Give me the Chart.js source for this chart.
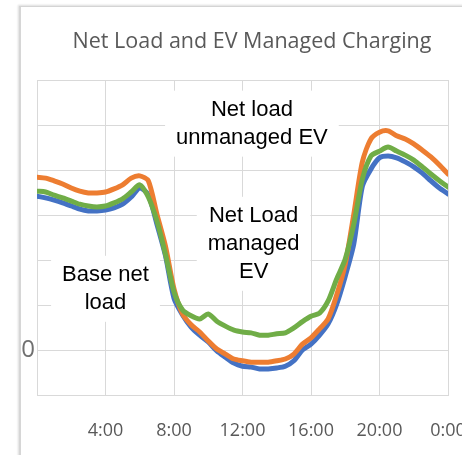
<!DOCTYPE html>
<html>
<head>
<meta charset="utf-8">
<script src="https://cdn.jsdelivr.net/npm/chart.js@4.4.1/dist/chart.umd.min.js"></script>
<style>
  body { margin: 0; overflow: hidden; background: #fff; width: 462px; height: 455px; position: relative; }
  #frame { position: absolute; left: 19px; top: 6px; width: 520px; height: 520px;
           border-left: 2px solid #d6d6d6; border-top: 1px solid #d4d4d4;
           box-shadow: -1px -1px 2px rgba(0,0,0,0.14); }
  #c { position: absolute; left: 0; top: 0; }
</style>
</head>
<body>
<div id="frame"></div>
<canvas id="c" width="480" height="455"></canvas>
<script>
// hour of day, every 30 min
const hours = [0, 0.5, 1, 1.5, 2, 2.5, 3, 3.5, 4, 4.5, 5, 5.5, 6, 6.5, 7, 7.5, 8, 8.5, 9, 9.5,
  10, 10.5, 11, 11.5, 12, 12.5, 13, 13.5, 14, 14.5, 15, 15.5, 16, 16.5, 17, 17.5, 18, 18.5,
  19, 19.5, 20, 20.5, 21, 21.5, 22, 22.5, 23, 23.5, 24];

const baseNetLoad = [3.42, 3.38, 3.33, 3.27, 3.2, 3.13, 3.09, 3.09, 3.11, 3.16, 3.24, 3.4, 3.6,
  3.45, 2.8, 2.1, 1.15, 0.78, 0.51, 0.33, 0.18, -0.02, -0.16, -0.29, -0.36, -0.38, -0.42, -0.42,
  -0.4, -0.36, -0.24, 0.0, 0.13, 0.33, 0.58, 1.02, 1.64, 2.36, 3.64, 4.02, 4.27, 4.31, 4.27,
  4.18, 4.07, 3.93, 3.76, 3.6, 3.47];

const unmanagedEV = [3.84, 3.82, 3.76, 3.69, 3.6, 3.53, 3.49, 3.49, 3.51, 3.58, 3.67, 3.82, 3.87,
  3.76, 3.02, 2.31, 1.36, 0.8, 0.56, 0.4, 0.2, 0.02, -0.09, -0.2, -0.24, -0.27, -0.27, -0.27,
  -0.24, -0.2, -0.09, 0.13, 0.27, 0.47, 0.69, 1.22, 1.91, 3.02, 4.18, 4.69, 4.84, 4.87, 4.76,
  4.69, 4.58, 4.44, 4.29, 4.11, 3.91];

const managedEV = [3.53, 3.51, 3.44, 3.38, 3.31, 3.24, 3.2, 3.18, 3.2, 3.27, 3.36, 3.51, 3.67,
  3.4, 2.87, 2.13, 1.29, 0.89, 0.76, 0.69, 0.8, 0.64, 0.53, 0.44, 0.4, 0.38, 0.33, 0.33, 0.36,
  0.38, 0.49, 0.63, 0.75, 0.82, 1.09, 1.58, 2.02, 2.8, 3.8, 4.31, 4.42, 4.51, 4.42, 4.33, 4.22,
  4.07, 3.91, 3.76, 3.62];

const xTicks = [0, 4, 8, 12, 16, 20, 24];
const xTickLabels = ['', '4:00', '8:00', '12:00', '16:00', '20:00', '0:00'];

// text boxes inside the plot: [hour, value, lines]
const notes = [
  [4, 1.36, ['Base net', 'load']],
  [12.55, 5.03, ['Net load', 'unmanaged EV']],
  [12.65, 2.36, ['Net Load', 'managed', 'EV']]
];

const COLORS = {
  base: '#4472C4',
  unmanaged: '#ED7D31',
  managed: '#70AD47',
  grid: '#d9d9d9'
};

function toPoints(values) {
  return values.map((v, i) => ({ x: hours[i], y: v }));
}

// title drawn by hand so it can sit centred on the frame, not the plot
const titlePlugin = {
  id: 'frameTitle',
  afterDraw(chart) {
    const ctx = chart.ctx;
    ctx.save();
    ctx.font = "21.5px 'Open Sans'";
    ctx.fillStyle = '#595959';
    ctx.textAlign = 'center';
    ctx.textBaseline = 'middle';
    ctx.fillText('Net Load and EV Managed Charging', 252, 42);
    ctx.restore();
  }
};

// white text boxes over the grid, under the lines
const notePlugin = {
  id: 'notes',
  beforeDatasetsDraw(chart) {
    const ctx = chart.ctx;
    const xs = chart.scales.x, ys = chart.scales.y;
    const lineH = 28;
    ctx.save();
    ctx.font = "22px 'Liberation Sans'";
    ctx.textAlign = 'center';
    ctx.textBaseline = 'middle';
    notes.forEach(([h, v, lines]) => {
      const cx = xs.getPixelForValue(h);
      const cy = ys.getPixelForValue(v);
      const w = Math.max(...lines.map(l => ctx.measureText(l).width)) + 22;
      const hgt = lines.length * lineH + 10;
      ctx.fillStyle = '#fff';
      ctx.fillRect(cx - w / 2, cy - hgt / 2, w, hgt);
      ctx.fillStyle = '#000';
      lines.forEach((l, i) => {
        ctx.fillText(l, cx, cy + (i - (lines.length - 1) / 2) * lineH);
      });
    });
    ctx.restore();
  }
};

new Chart(document.getElementById('c'), {
  type: 'line',
  data: {
    datasets: [
      { label: 'Base net load', data: toPoints(baseNetLoad), borderColor: COLORS.base, order: 3 },
      { label: 'Net load unmanaged EV', data: toPoints(unmanagedEV), borderColor: COLORS.unmanaged, order: 2 },
      { label: 'Net load managed EV', data: toPoints(managedEV), borderColor: COLORS.managed, order: 1 }
    ]
  },
  options: {
    responsive: false,
    animation: false,
    layout: { padding: { left: 0, right: 32, top: 80, bottom: 0 } },
    elements: {
      line: { borderWidth: 5, tension: 0.25, fill: false, borderCapStyle: 'round', borderJoinStyle: 'round' },
      point: { radius: 0 }
    },
    plugins: {
      legend: { display: false },
      title: { display: false },
      tooltip: { enabled: false }
    },
    scales: {
      x: {
        type: 'linear',
        min: 0,
        max: 24,
        afterBuildTicks(scale) {
          scale.ticks = xTicks.map(v => ({ value: v }));
        },
        afterFit(scale) {
          scale.height = 60;
          scale.paddingLeft = 0;
          scale.paddingRight = 0;
        },
        grid: { color: COLORS.grid, lineWidth: 1, drawTicks: false },
        border: { color: COLORS.grid },
        ticks: {
          padding: 25,
          maxRotation: 0,
          autoSkip: false,
          color: '#595959',
          font: { family: "'Open Sans'", size: 18 },
          callback: (v) => xTickLabels[xTicks.indexOf(v)]
        }
      },
      y: {
        min: -1,
        max: 6,
        afterFit(scale) {
          scale.width = 37;
          scale.paddingTop = 0;
          scale.paddingBottom = 0;
        },
        grid: { color: COLORS.grid, lineWidth: 1, drawTicks: false },
        border: { color: COLORS.grid },
        ticks: {
          stepSize: 1,
          padding: 2,
          color: '#707070',
          font: { family: "'Open Sans'", size: 24 },
          callback: (v) => v === 0 ? '0' : ''
        }
      }
    }
  },
  plugins: [titlePlugin, notePlugin]
});
</script>
</body>
</html>
